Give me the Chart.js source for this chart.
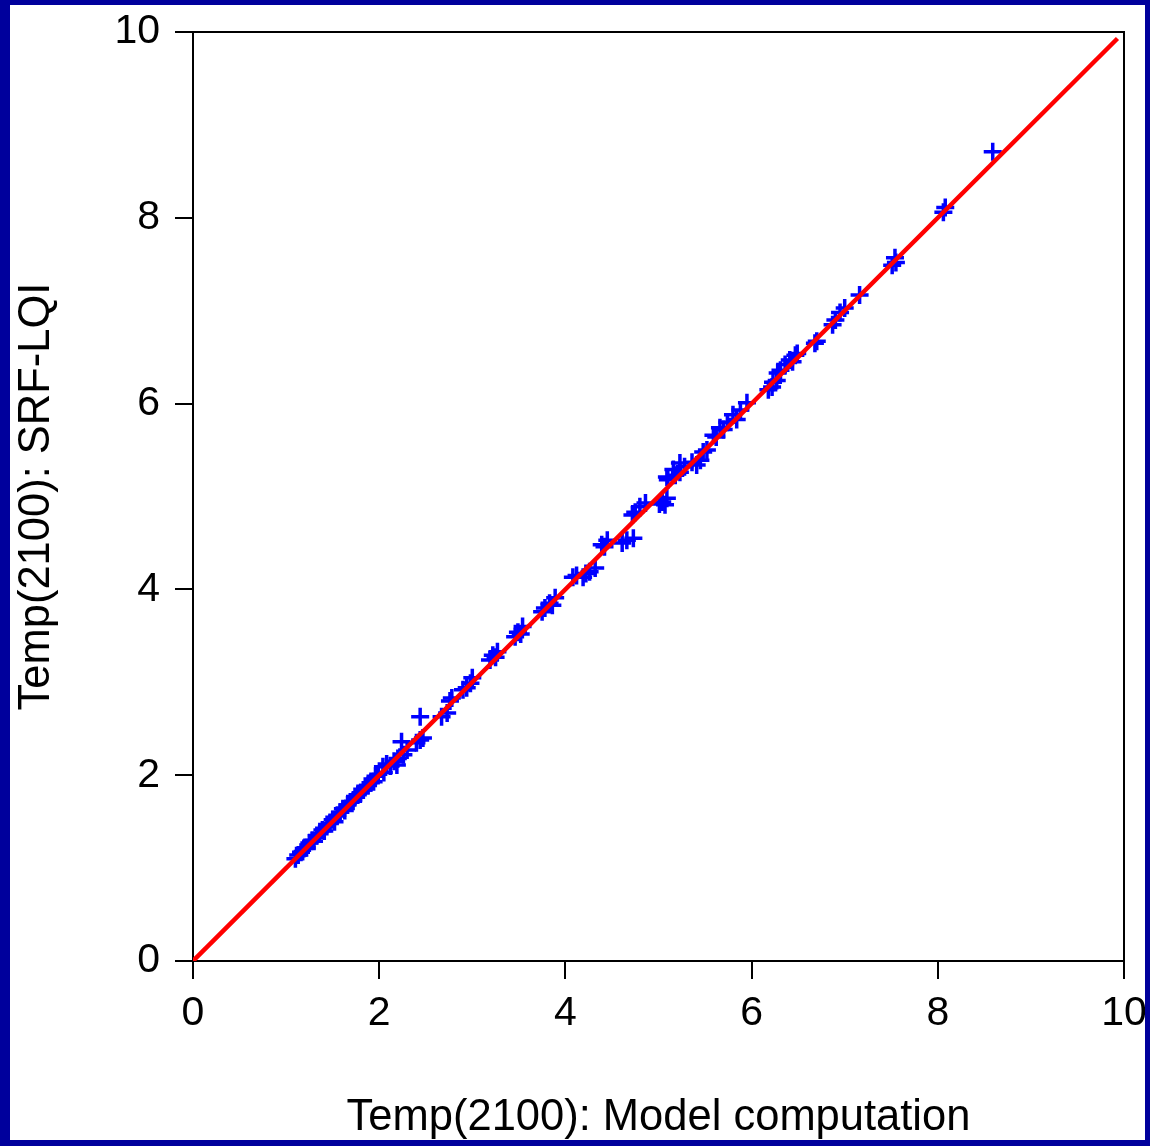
<!DOCTYPE html>
<html lang="en">
<head>
  <meta charset="UTF-8" />
  <title>Temp(2100) scatter</title>
  <script src="https://cdn.jsdelivr.net/npm/chart.js"></script>
  <style>
    body {
      margin: 0;
      background: #fff;
    }
    #frame {
      box-sizing: border-box;
      width: 1150px;
      height: 1146px;
      border-style: solid;
      border-color: #00009c;
      border-width: 5px 5px 6px 10px;
      background: #fff;
      overflow: hidden;
    }
    #chart {
      display: block;
    }
  </style>
</head>
<body>
<div id="frame">
  <canvas id="chart" width="1135" height="1135"></canvas>
</div>

<script>
  // model computation (x) vs SRF-LQI (y)
  const modelTemp = [
    1.10, 1.13, 1.16, 1.19, 1.22, 1.25, 1.28, 1.30, 1.33, 1.36,
    1.39, 1.41, 1.44, 1.47, 1.50, 1.52, 1.55, 1.58, 1.61, 1.63,
    1.66, 1.69, 1.72, 1.74, 1.77, 1.80, 1.83, 1.85, 1.88, 1.91,
    1.94, 1.96, 1.99, 2.04, 2.05, 2.08, 2.12, 2.16, 2.19, 2.20,
    2.24, 2.26, 2.30, 2.40, 2.44, 2.47, 2.44, 2.67, 2.73, 2.76,
    2.78, 2.90, 2.94, 2.98, 3.00, 3.19, 3.22, 3.25, 3.27, 3.46,
    3.49, 3.52, 3.54, 3.75, 3.78, 3.83, 3.86, 3.89, 4.08, 4.12,
    4.19, 4.22, 4.26, 4.32, 4.39, 4.42, 4.45, 4.61, 4.66, 4.73,
    4.72, 4.75, 4.80, 4.86, 5.01, 5.04, 5.07, 5.09, 5.09, 5.10,
    5.16, 5.18, 5.23, 5.23, 5.28, 5.36, 5.41, 5.45, 5.48, 5.52,
    5.59, 5.62, 5.66, 5.70, 5.74, 5.80, 5.84, 5.88, 5.95, 6.18,
    6.22, 6.23, 6.27, 6.28, 6.31, 6.36, 6.41, 6.44, 6.47, 6.49,
    6.68, 6.70, 6.87, 6.90, 6.95, 7.00, 7.16, 7.51, 7.54, 7.55,
    8.06, 8.08, 8.59
  ];
  const srfTemp = [
    1.10, 1.14, 1.17, 1.21, 1.22, 1.27, 1.30, 1.29, 1.35, 1.37,
    1.41, 1.40, 1.47, 1.48, 1.52, 1.50, 1.57, 1.60, 1.64, 1.62,
    1.68, 1.71, 1.72, 1.77, 1.79, 1.81, 1.84, 1.88, 1.89, 1.92,
    1.93, 1.99, 2.01, 2.09, 2.03, 2.12, 2.10, 2.15, 2.11, 2.18,
    2.36, 2.22, 2.27, 2.35, 2.38, 2.40, 2.63, 2.63, 2.67, 2.80,
    2.83, 2.92, 2.94, 2.99, 3.05, 3.24, 3.29, 3.27, 3.33, 3.49,
    3.54, 3.52, 3.60, 3.76, 3.80, 3.85, 3.83, 3.91, 4.13, 4.15,
    4.13, 4.17, 4.19, 4.23, 4.48, 4.46, 4.53, 4.50, 4.53, 4.55,
    4.80, 4.83, 4.89, 4.93, 4.92, 4.94, 4.91, 4.98, 5.21, 5.18,
    5.29, 5.23, 5.26, 5.36, 5.32, 5.37, 5.34, 5.39, 5.48, 5.50,
    5.66, 5.64, 5.74, 5.72, 5.80, 5.88, 5.83, 5.93, 6.01, 6.15,
    6.18, 6.23, 6.25, 6.33, 6.36, 6.42, 6.47, 6.45, 6.52, 6.54,
    6.65, 6.67, 6.85, 6.90, 6.98, 7.03, 7.17, 7.49, 7.57, 7.52,
    8.06, 8.11, 8.71
  ];
  // 45 degree reference line
  const lineX = [0, 9.93];
  const lineY = [0, 9.93];
  const tickValues = [0, 2, 4, 6, 8, 10];

  const fonte = "Arial, 'Liberation Sans', sans-serif";

  const pontos = modelTemp.map((x, i) => ({ x: x, y: srfTemp[i] }));
  const linha = lineX.map((x, i) => ({ x: x, y: lineY[i] }));

  // box around the plot area
  const caixa = {
    id: 'caixa',
    beforeDatasetsDraw(chart) {
      const a = chart.chartArea;
      const ctx = chart.ctx;
      ctx.save();
      ctx.strokeStyle = '#000';
      ctx.lineWidth = 2;
      ctx.strokeRect(a.left, a.top, a.right - a.left, a.bottom - a.top);
      ctx.restore();
    },
  };

  function eixo(titulo, pad, tituloPad) {
    return {
      type: 'linear',
      min: 0,
      max: 10,
      afterBuildTicks: (scale) => {
        scale.ticks = tickValues.map((v) => ({ value: v }));
      },
      ticks: {
        color: '#000',
        font: { family: fonte, size: 41 },
        padding: pad,
      },
      grid: {
        drawOnChartArea: false,
        drawTicks: true,
        tickLength: 18,
        color: '#000',
        lineWidth: 2,
      },
      border: { display: true, color: '#000', width: 2 },
      title: {
        display: true,
        text: titulo,
        color: '#000',
        font: { family: fonte, size: 43.5 },
        padding: tituloPad,
      },
    };
  }

  const xEixo = eixo('Temp(2100): Model computation', 10, { top: 0, bottom: -4 });
  xEixo.afterFit = (scale) => {
    scale.height = 179;
    scale.paddingLeft = 0;
    scale.paddingRight = 0;
  };
  const yEixo = eixo('Temp(2100): SRF-LQI', 15, { top: 1, bottom: 0 });
  yEixo.afterFit = (scale) => {
    scale.width = 183;
    scale.paddingTop = 0;
    scale.paddingBottom = 0;
  };

  new Chart(document.getElementById('chart'), {
    type: 'scatter',
    data: {
      datasets: [
        {
          type: 'line',
          data: linha,
          borderColor: '#ff0000',
          borderWidth: 4.5,
          pointRadius: 0,
          fill: false,
          tension: 0,
          order: 0,
        },
        {
          data: pontos,
          pointStyle: 'cross',
          pointRadius: 9,
          pointBorderWidth: 3.5,
          borderColor: '#0000ff',
          backgroundColor: '#0000ff',
          order: 1,
        },
      ],
    },
    options: {
      responsive: false,
      animation: false,
      layout: { padding: { left: 0, top: 27, right: 21, bottom: 0 } },
      plugins: {
        legend: { display: false },
        tooltip: { enabled: false },
      },
      scales: { x: xEixo, y: yEixo },
    },
    plugins: [caixa],
  });
</script>
</body>
</html>
